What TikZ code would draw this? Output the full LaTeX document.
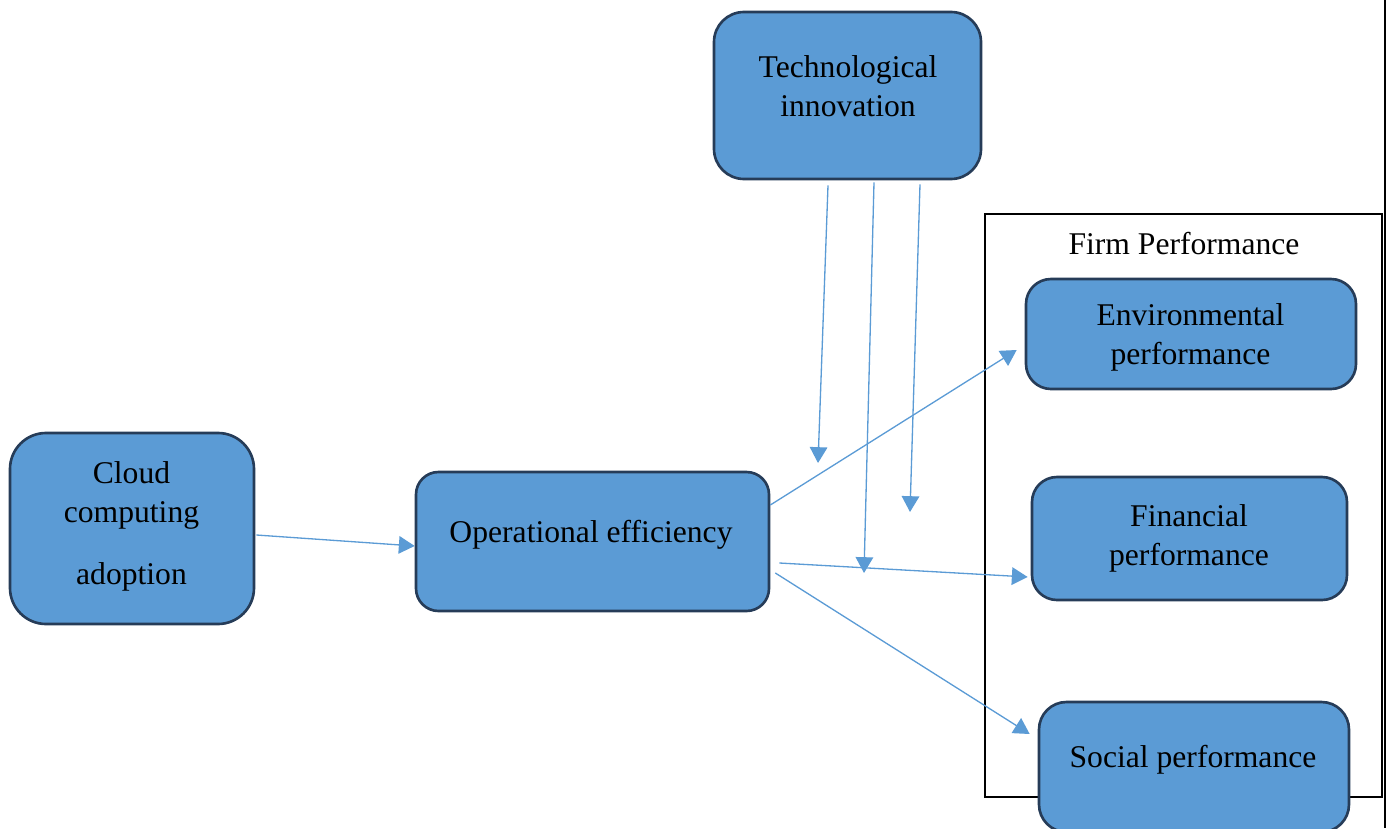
\documentclass[tikz,border=0pt]{standalone}
\usepackage{fontspec}
\setmainfont{Liberation Serif}
\usetikzlibrary{arrows.meta, positioning, fit, calc}
\definecolor{boxblue}{RGB}{91,155,213}
\definecolor{boxedge}{RGB}{38,60,88}

\begin{document}
\begin{tikzpicture}[x=0.02cm, y=-0.02cm, >={Triangle[length=9pt, width=10pt]},
  box/.style={draw=boxedge, line width=1.5pt, fill=boxblue, rounded corners=0.6cm, inner sep=0pt},
  txt/.style={align=center, font=\fontsize{18}{22.2}\selectfont},
  link/.style={->, boxblue, line width=0.75pt}]
  \useasboundingbox (0,0) rectangle (1389,828);
  % frame around the performance dimensions
  \node[draw, line width=0.6pt, fit={(985,214) (1382,797)}, inner sep=0pt] (firm) {};
  \node[txt, anchor=base] (firmlbl) at (1184,254) {Firm Performance};
  % constructs
  \node[box, fit={(714,12) (981,179)}] (techinn) {};
  \node[box, rounded corners=0.72cm, fit={(10,433) (254,624)}] (cloud) {};
  \node[box, rounded corners=0.45cm, fit={(416,472) (769,611)}] (opeff) {};
  \node[box, rounded corners=0.5cm, fit={(1026,279) (1356,389)}] (envperf) {};
  \node[box, rounded corners=0.5cm, fit={(1032,477) (1347,600)}] (finperf) {};
  \node[box, rounded corners=0.55cm, fit={(1039,702) (1349,832)}] (socperf) {};
  % labels
  \node[txt] (techlbl) at (848,86.5) {Technological\\innovation};
  \node[txt] (cloudlbl) at (131.5,526.4) {Cloud\\computing\\[0.47cm]adoption};
  \node[txt, anchor=base] (opefflbl) at (591,542) {Operational efficiency};
  \node[txt] (envlbl) at (1190.5,337.5) {Environmental\\performance};
  \node[txt] (finlbl) at (1189,538.5) {Financial\\performance};
  \node[txt, anchor=base] (soclbl) at (1193,767) {Social performance};
  % direct paths
  \draw[link] ($(cloud.east)+(1,6.5)$) -- ($(opeff.west)+(0,4.5)$);
  \draw[link] ($(opeff.east)+(0,-36.5)$) -- ($(envperf.west)+(-8,16)$);
  \draw[link] ($(opeff.east)+(9,21.5)$) -- ($(finperf.west)+(-3,38.5)$);
  \draw[link] ($(opeff.east)+(5,31.5)$) -- ($(socperf.west)+(-8,-33)$);
  % moderating arrows
  \coordinate (mod1) at (818,463);
  \coordinate (mod2) at (864,573);
  \coordinate (mod3) at (910,512);
  \foreach \dx/\dy/\m in {-19.5/5/1, 26.5/2/2, 72.5/4/3}
    \draw[link] ($(techinn.south)+(\dx,\dy)$) -- (mod\m);
  % page edge
  \draw[line width=1.2pt] (1384.6,0) -- (1384.6,828);
\end{tikzpicture}
\end{document}
